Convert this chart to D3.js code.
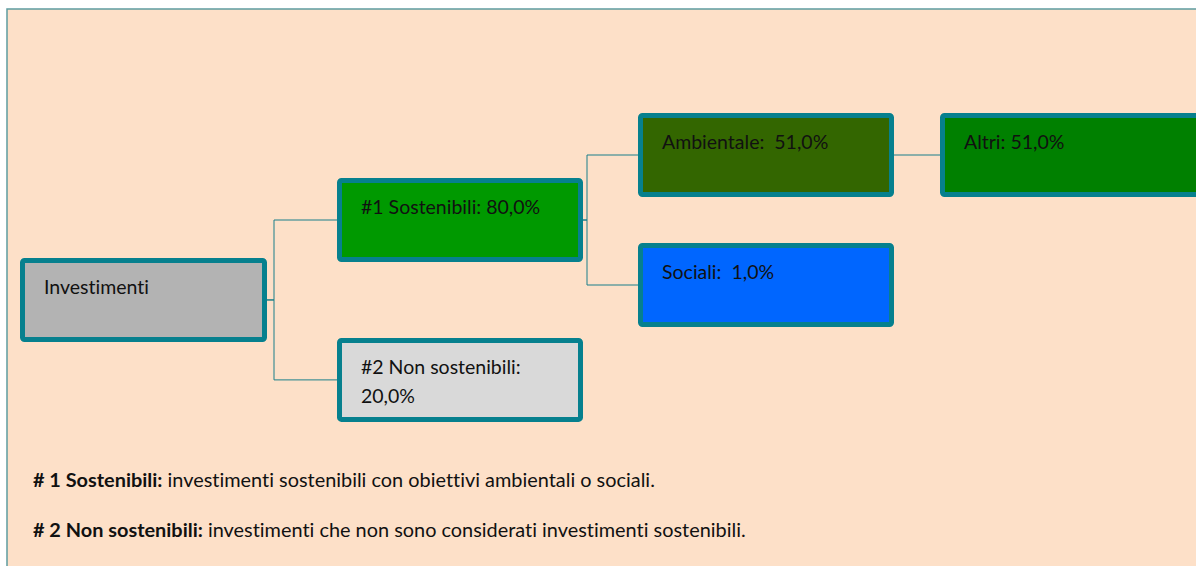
<!DOCTYPE html>
<html>
<head>
<meta charset="utf-8">
<script src="https://cdn.jsdelivr.net/npm/d3@7"></script>
<style>
  html, body { margin: 0; padding: 0; background: #fff; }
  svg text { font-family: Lato, "Noto Sans", sans-serif; white-space: pre; fill: #111;
             font-variant-ligatures: none; font-feature-settings: "liga" 0; }
</style>
</head>
<body>
<div id="chart"></div>
<script>
// data
const nodeNames   = ["Investimenti", "#1 Sostenibili", "#2 Non sostenibili", "Ambientale", "Sociali", "Altri"];
const nodeParents = [null, "Investimenti", "Investimenti", "#1 Sostenibili", "#1 Sostenibili", "Ambientale"];
const nodeValues  = [null, "80,0%", "20,0%", "51,0%", "1,0%", "51,0%"];
const nodeSeps    = ["", ": ", ": ", ":  ", ":  ", ": "];
const footNotes   = [
  ["# 1 Sostenibili:", " investimenti sostenibili con obiettivi ambientali o sociali."],
  ["# 2 Non sostenibili:", " investimenti che non sono considerati investimenti sostenibili."]
];

const width = 1196, height = 566;
const fills = {
  "Investimenti": "#b3b3b3",
  "#1 Sostenibili": "#009900",
  "#2 Non sostenibili": "#d9d9d9",
  "Ambientale": "#336600",
  "Sociali": "#0066ff",
  "Altri": "#008000"
};
const colX = [20, 337, 638, 940];      // left of each column
const boxW = [247, 246, 256, 262];
const boxH = 84;
const border = "#06808e";

const svg = d3.select("#chart").append("svg")
  .attr("width", width).attr("height", height);

// panel
svg.append("rect")
  .attr("x", 7).attr("y", 9)
  .attr("width", width + 10).attr("height", height)
  .attr("fill", "#fde0c8")
  .attr("stroke", "#5e9ca0").attr("stroke-width", 1.5);

const table = nodeNames.map((n, i) => ({
  name: n, parent: nodeParents[i], value: nodeValues[i], sep: nodeSeps[i]
}));
const root = d3.stratify().id(d => d.name).parentId(d => d.parent)(table);

d3.tree()
  .nodeSize([130, 300])
  .separation((a, b) => a.depth === 1 ? 1.23 : 1)(root);

const minX = d3.min(root.descendants(), d => d.x);
const cy = d => d.x - minX + 155;
const left = d => colX[d.depth];
const right = d => colX[d.depth] + boxW[d.depth];

// connectors
svg.append("g")
  .selectAll("path")
  .data(root.links())
  .join("path")
  .attr("fill", "none")
  .attr("stroke", "#1b7f8a")
  .attr("stroke-width", 1)
  .attr("d", l => {
    const x0 = right(l.source), y0 = cy(l.source);
    const xm = x0 + (l.source.depth === 0 ? 7 : 4);
    const x1 = left(l.target), y1 = cy(l.target);
    return `M${x0},${y0}H${xm}V${y1}H${x1}`;
  });

// boxes
const node = svg.append("g")
  .selectAll("g")
  .data(root.descendants())
  .join("g")
  .attr("transform", d => `translate(${left(d)},${cy(d) - boxH / 2})`);

node.append("rect")
  .attr("x", 2.5).attr("y", 2.5)
  .attr("width", d => boxW[d.depth] - 5)
  .attr("height", boxH - 5)
  .attr("rx", 2)
  .attr("fill", d => fills[d.id])
  .attr("stroke", border)
  .attr("stroke-width", 5);

node.each(function(d) {
  const g = d3.select(this);
  const label = d.data.value ? d.data.name + d.data.sep + d.data.value : d.data.name;
  const t = g.append("text")
    .attr("x", 24).attr("y", 36)
    .attr("font-size", 19.5)
    .text(label);
  const maxW = boxW[d.depth] - 48;
  if (t.node().getComputedTextLength() > maxW) {
    t.text(null);
    t.append("tspan").attr("x", 24).attr("y", 36).text(d.data.name + ":");
    t.append("tspan").attr("x", 24).attr("dy", 29).text(d.data.value);
  }
});

// footnotes
const notes = svg.append("g").selectAll("text")
  .data(footNotes)
  .join("text")
  .attr("x", 33)
  .attr("y", (d, i) => 487 + i * 50)
  .attr("font-size", 19.9);
notes.append("tspan").attr("font-weight", "bold").text(d => d[0]);
notes.append("tspan").text(d => d[1]);
</script>
</body>
</html>
